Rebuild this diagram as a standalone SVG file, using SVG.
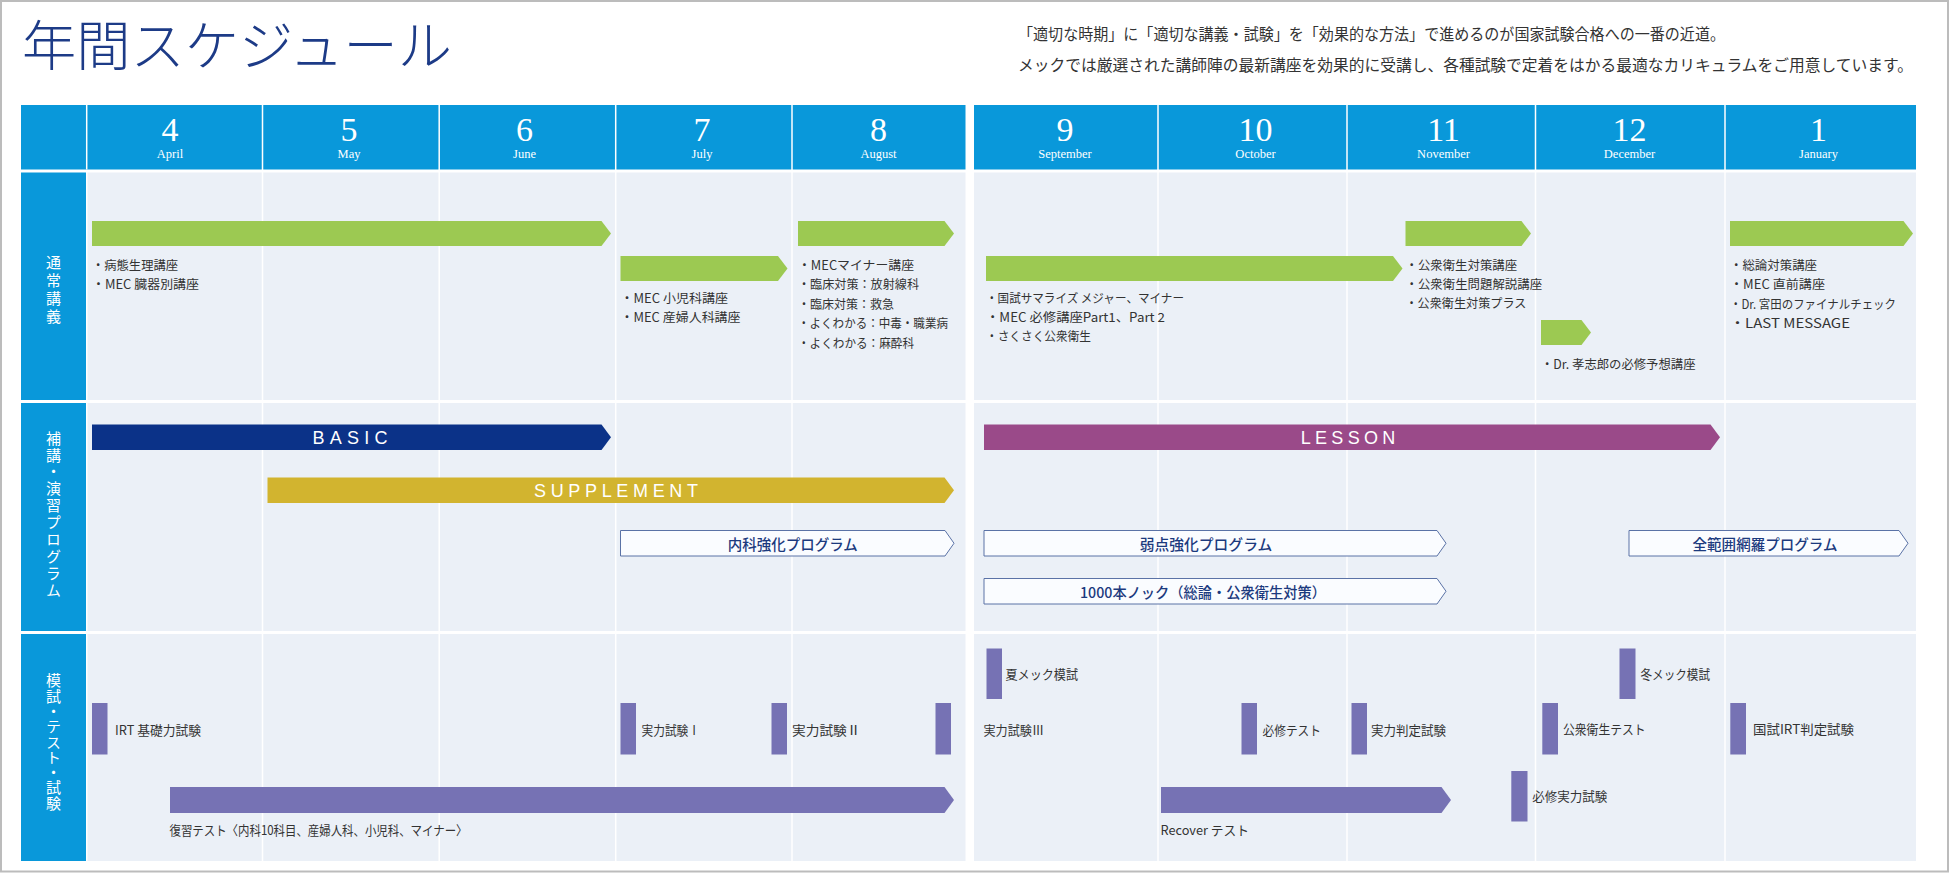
<svg xmlns="http://www.w3.org/2000/svg" width="1950" height="873" viewBox="0 0 1950 873">
<style>
.t{font-family:"Noto Sans CJK JP","Noto Sans",sans-serif;font-size:12.5px;fill:#333;dominant-baseline:central}
.t3{font-size:13px}
.cat{font-family:"Noto Sans CJK JP",sans-serif;font-size:15px;fill:#fff;text-anchor:middle;writing-mode:vertical-rl}
.num{font-family:"Liberation Serif",serif;font-size:34px;fill:#fff;text-anchor:middle}
.mon{font-family:"Liberation Serif",serif;font-size:12.5px;fill:#fff;text-anchor:middle}
.hdr{fill:#0998da}
.body{fill:#ebf0f7}
.div{stroke:#fff;stroke-width:1.5}
.green{fill:#9cc952}
.purple{fill:#7672b4}
.outline{fill:#fafcff;stroke:#5a72a6;stroke-width:1}
.ol{font-family:"Noto Sans CJK JP",sans-serif;font-size:14.5px;font-weight:500;fill:#1c3a7e;text-anchor:middle;dominant-baseline:central}
.bl{font-family:"Liberation Sans","Noto Sans",sans-serif;font-size:18px;fill:#fff;text-anchor:middle;dominant-baseline:central}
.intro{font-family:"Noto Sans CJK JP",sans-serif;font-size:15.5px;fill:#333;dominant-baseline:central}
</style>
<rect x="0" y="0" width="1950" height="873" fill="#fff"/>
<rect x="1" y="1" width="1947" height="870.5" fill="none" stroke="#bcbcbc" stroke-width="2"/>

<g id="title">
<text x="22" y="66" font-family="Noto Sans CJK JP, sans-serif" font-weight="300" font-size="54" fill="#1d3b87" textLength="430" lengthAdjust="spacingAndGlyphs">年間スケジュール</text>
</g>
<g id="intro">
<text class="intro" x="1018" y="32.5" textLength="707" lengthAdjust="spacingAndGlyphs">「適切な時期」に「適切な講義・試験」を「効果的な方法」で進めるのが国家試験合格への一番の近道。</text>
<text class="intro" x="1018" y="63.5" textLength="895" lengthAdjust="spacingAndGlyphs">メックでは厳選された講師陣の最新講座を効果的に受講し、各種試験で定着をはかる最適なカリキュラムをご用意しています。</text>
</g>

<g id="grid">
<rect class="hdr" x="21" y="105" width="944.5" height="64.5"/>
<rect class="hdr" x="974" y="105" width="942" height="64.5"/>
<rect class="hdr" x="21" y="172.5" width="65" height="227.5"/>
<rect class="hdr" x="21" y="403" width="65" height="228"/>
<rect class="hdr" x="21" y="634" width="65" height="227"/>
<rect class="body" x="87.5" y="172.5" width="878" height="227.5"/>
<rect class="body" x="87.5" y="403" width="878" height="228"/>
<rect class="body" x="87.5" y="634" width="878" height="227"/>
<rect class="body" x="974" y="172.5" width="942" height="227.5"/>
<rect class="body" x="974" y="403" width="942" height="228"/>
<rect class="body" x="974" y="634" width="942" height="227"/>
<line class="div" x1="86.7" y1="105" x2="86.7" y2="169.5"/>
<line class="div" x1="262.5" y1="105" x2="262.5" y2="861"/>
<line class="div" x1="439.2" y1="105" x2="439.2" y2="861"/>
<line class="div" x1="615.7" y1="105" x2="615.7" y2="861"/>
<line class="div" x1="792" y1="105" x2="792" y2="861"/>
<line class="div" x1="1158" y1="105" x2="1158" y2="861"/>
<line class="div" x1="1347" y1="105" x2="1347" y2="861"/>
<line class="div" x1="1535.5" y1="105" x2="1535.5" y2="861"/>
<line class="div" x1="1725" y1="105" x2="1725" y2="861"/>
</g>

<g id="months">
<text class="num" x="170" y="140.5">4</text><text class="mon" x="170" y="158">April</text>
<text class="num" x="349" y="140.5">5</text><text class="mon" x="349" y="158">May</text>
<text class="num" x="524.5" y="140.5">6</text><text class="mon" x="524.5" y="158">June</text>
<text class="num" x="702" y="140.5">7</text><text class="mon" x="702" y="158">July</text>
<text class="num" x="878.5" y="140.5">8</text><text class="mon" x="878.5" y="158">August</text>
<text class="num" x="1065" y="140.5">9</text><text class="mon" x="1065" y="158">September</text>
<text class="num" x="1255.5" y="140.5">10</text><text class="mon" x="1255.5" y="158">October</text>
<text class="num" x="1443.5" y="140.5">11</text><text class="mon" x="1443.5" y="158">November</text>
<text class="num" x="1629.5" y="140.5">12</text><text class="mon" x="1629.5" y="158">December</text>
<text class="num" x="1818.5" y="140.5">1</text><text class="mon" x="1818.5" y="158">January</text>
</g>

<g id="cat-lecture">
<text class="cat" x="53.5" y="290.5" letter-spacing="3">通常講義</text>
</g>
<g id="cat-program">
<text class="cat" x="53.5" y="515" letter-spacing="1.9">補講・演習プログラム</text>
</g>
<g id="cat-exam">
<text class="cat" x="53.5" y="742" letter-spacing="0.3">模試・テスト・試験</text>
</g>

<g id="lec-apr">
<path class="green" d="M92 221H601.5L611 233.5L601.5 246H92Z"/>
<text class="t" x="92" y="264" textLength="86" lengthAdjust="spacingAndGlyphs">・病態生理講座</text>
<text class="t" x="92" y="283.5" textLength="107" lengthAdjust="spacingAndGlyphs">・MEC 臓器別講座</text>
</g>
<g id="lec-jul">
<path class="green" d="M620.5 256H778L787.5 268.5L778 281H620.5Z"/>
<text class="t" x="620.5" y="297" textLength="107.5" lengthAdjust="spacingAndGlyphs">・MEC 小児科講座</text>
<text class="t" x="620.5" y="316" textLength="120" lengthAdjust="spacingAndGlyphs">・MEC 産婦人科講座</text>
</g>
<g id="lec-aug">
<path class="green" d="M798 221H944.5L954 233.5L944.5 246H798Z"/>
<text class="t" x="798" y="264" textLength="116" lengthAdjust="spacingAndGlyphs">・MECマイナー講座</text>
<text class="t" x="798" y="283.5" textLength="121" lengthAdjust="spacingAndGlyphs">・臨床対策：放射線科</text>
<text class="t" x="798" y="303" textLength="96" lengthAdjust="spacingAndGlyphs">・臨床対策：救急</text>
<text class="t" x="798" y="322.5" textLength="150" lengthAdjust="spacingAndGlyphs">・よくわかる：中毒・職業病</text>
<text class="t" x="798" y="342" textLength="116" lengthAdjust="spacingAndGlyphs">・よくわかる：麻酔科</text>
</g>
<g id="lec-sep">
<path class="green" d="M986 256H1393L1402.5 268.5L1393 281H986Z"/>
<text class="t" x="986" y="297" textLength="198" lengthAdjust="spacingAndGlyphs">・国試サマライズ メジャー、マイナー</text>
<text class="t" x="986" y="316" textLength="179" lengthAdjust="spacingAndGlyphs">・MEC 必修講座Part1、Part 2</text>
<text class="t" x="986" y="335.5" textLength="105" lengthAdjust="spacingAndGlyphs">・さくさく公衆衛生</text>
</g>
<g id="lec-nov">
<path class="green" d="M1405.5 221H1521.5L1531 233.5L1521.5 246H1405.5Z"/>
<text class="t" x="1405.5" y="264.3" textLength="111.6" lengthAdjust="spacingAndGlyphs">・公衆衛生対策講座</text>
<text class="t" x="1405.5" y="283.3" textLength="136.6" lengthAdjust="spacingAndGlyphs">・公衆衛生問題解説講座</text>
<text class="t" x="1405.5" y="302.7" textLength="121" lengthAdjust="spacingAndGlyphs">・公衆衛生対策プラス</text>
</g>
<g id="lec-dec">
<path class="green" d="M1541 320H1581.5L1591 332.5L1581.5 345H1541Z"/>
<text class="t" x="1541" y="363.3" textLength="154.5" lengthAdjust="spacingAndGlyphs">・Dr. 孝志郎の必修予想講座</text>
</g>
<g id="lec-jan">
<path class="green" d="M1730 221H1903.5L1913 233.5L1903.5 246H1730Z"/>
<text class="t" x="1730" y="264" textLength="87" lengthAdjust="spacingAndGlyphs">・総論対策講座</text>
<text class="t" x="1730" y="283.5" textLength="95" lengthAdjust="spacingAndGlyphs">・MEC 直前講座</text>
<text class="t" x="1730" y="303" textLength="166" lengthAdjust="spacingAndGlyphs">・Dr. 宮田のファイナルチェック</text>
<text class="t" x="1730" y="322.5" textLength="120" lengthAdjust="spacingAndGlyphs">・LAST MESSAGE</text>
</g>

<g id="prog-basic">
<path fill="#0b3288" d="M92 424.5H601.5L611 437.25L601.5 450H92Z"/>
<text class="bl" x="350" y="437.5" textLength="75" lengthAdjust="spacing">BASIC</text>
</g>
<g id="prog-supplement">
<path fill="#d2b42f" d="M267.5 477.5H944.5L954 490.25L944.5 503H267.5Z"/>
<text class="bl" x="616" y="490.5" textLength="164" lengthAdjust="spacing">SUPPLEMENT</text>
</g>
<g id="prog-naika">
<path class="outline" d="M620.5 530.5H945L954 543.25L945 556H620.5Z"/>
<text class="ol" x="792.7" y="543.3" textLength="130" lengthAdjust="spacingAndGlyphs">内科強化プログラム</text>
</g>
<g id="prog-lesson">
<path fill="#9a4a89" d="M984 424.5H1710.5L1720 437.25L1710.5 450H984Z"/>
<text class="bl" x="1348" y="437.5" textLength="94.6" lengthAdjust="spacing">LESSON</text>
</g>
<g id="prog-jakuten">
<path class="outline" d="M984 530.5H1437L1446 543.25L1437 556H984Z"/>
<text class="ol" x="1206" y="543.3" textLength="132.5" lengthAdjust="spacingAndGlyphs">弱点強化プログラム</text>
</g>
<g id="prog-knock">
<path class="outline" d="M984 578.5H1437L1446 591.25L1437 604H984Z"/>
<text class="ol" x="1203" y="591.3" textLength="246" lengthAdjust="spacingAndGlyphs">1000本ノック（総論・公衆衛生対策）</text>
</g>
<g id="prog-zenhani">
<path class="outline" d="M1629 530.5H1899L1908 543.25L1899 556H1629Z"/>
<text class="ol" x="1765" y="543.3" textLength="145" lengthAdjust="spacingAndGlyphs">全範囲網羅プログラム</text>
</g>

<g id="exam-irt">
<rect class="purple" x="92" y="703" width="15.5" height="51.5"/>
<text class="t t3" x="115" y="729" textLength="86" lengthAdjust="spacingAndGlyphs">IRT 基礎力試験</text>
</g>
<g id="exam-jitsu1">
<rect class="purple" x="620.5" y="703" width="15.5" height="51.5"/>
<text class="t t3" x="641.5" y="729" textLength="58.5" lengthAdjust="spacingAndGlyphs">実力試験Ⅰ</text>
</g>
<g id="exam-jitsu2">
<rect class="purple" x="771.5" y="703" width="15.5" height="51.5"/>
<text class="t t3" x="792" y="729" textLength="68.5" lengthAdjust="spacingAndGlyphs">実力試験Ⅱ</text>
</g>
<g id="exam-jitsu3">
<rect class="purple" x="935.5" y="703" width="15.5" height="51.5"/>
<text class="t t3" x="983.5" y="729" textLength="60.5" lengthAdjust="spacingAndGlyphs">実力試験Ⅲ</text>
</g>
<g id="exam-fukushu">
<path class="purple" d="M170 787H944.5L954 800L944.5 813H170Z"/>
<text class="t t3" x="169.5" y="829.4" textLength="298" lengthAdjust="spacingAndGlyphs">復習テスト〈内科10科目、産婦人科、小児科、マイナー〉</text>
</g>
<g id="exam-natsu">
<rect class="purple" x="986.5" y="648.5" width="15.5" height="50.5"/>
<text class="t t3" x="1005.5" y="673.5" textLength="72.5" lengthAdjust="spacingAndGlyphs">夏メック模試</text>
</g>
<g id="exam-hisshu">
<rect class="purple" x="1241.5" y="703" width="15.5" height="51.5"/>
<text class="t t3" x="1262.5" y="729" textLength="58.5" lengthAdjust="spacingAndGlyphs">必修テスト</text>
</g>
<g id="exam-hantei">
<rect class="purple" x="1351.5" y="703" width="15.5" height="51.5"/>
<text class="t t3" x="1371" y="729" textLength="75" lengthAdjust="spacingAndGlyphs">実力判定試験</text>
</g>
<g id="exam-koshu">
<rect class="purple" x="1542.3" y="703" width="15.7" height="51.5"/>
<text class="t t3" x="1563" y="728.5" textLength="82.7" lengthAdjust="spacingAndGlyphs">公衆衛生テスト</text>
</g>
<g id="exam-fuyu">
<rect class="purple" x="1619.5" y="648.5" width="16" height="50.5"/>
<text class="t t3" x="1640.5" y="673.5" textLength="69.5" lengthAdjust="spacingAndGlyphs">冬メック模試</text>
</g>
<g id="exam-kokushi">
<rect class="purple" x="1730.3" y="703" width="15.7" height="51.5"/>
<text class="t t3" x="1753" y="728.5" textLength="101" lengthAdjust="spacingAndGlyphs">国試IRT判定試験</text>
</g>
<g id="exam-hisshu-jitsu">
<rect class="purple" x="1511.3" y="771" width="16.2" height="50.5"/>
<text class="t t3" x="1532.3" y="795" textLength="75" lengthAdjust="spacingAndGlyphs">必修実力試験</text>
</g>
<g id="exam-recover">
<path class="purple" d="M1161 787H1441.5L1451 800L1441.5 813H1161Z"/>
<text class="t t3" x="1160.5" y="829" textLength="88.5" lengthAdjust="spacingAndGlyphs">Recover テスト</text>
</g>
<g id="connectors"/>
</svg>
